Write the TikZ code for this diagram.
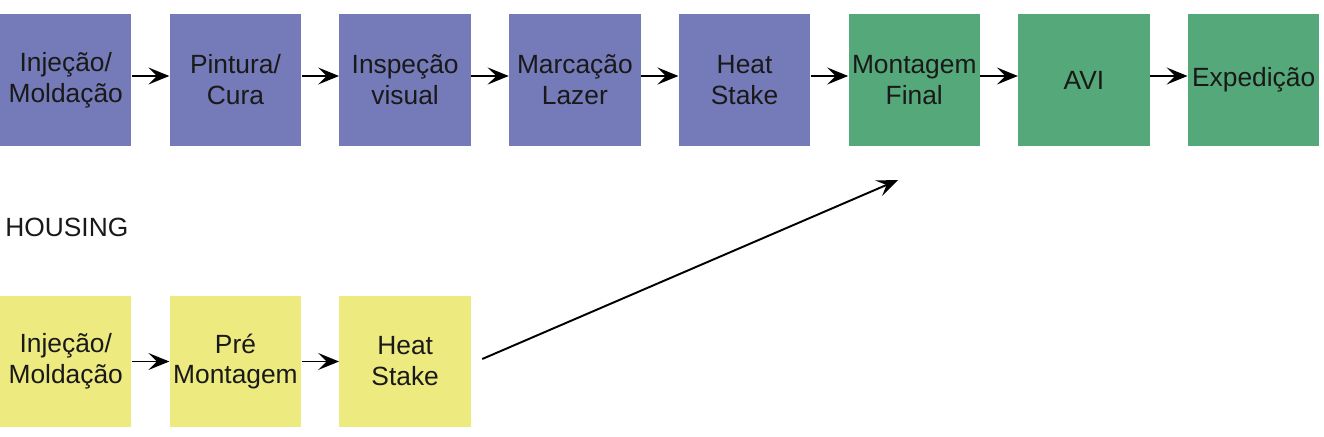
\documentclass[tikz,border=0pt]{standalone}
\usepackage{fontspec}
\setmainfont{Liberation Sans}
\usetikzlibrary{arrows.meta}
\definecolor{boxblue}{RGB}{117,122,185}
\definecolor{boxgreen}{RGB}{85,168,122}
\definecolor{boxyellow}{RGB}{237,234,128}
\tikzset{
	etapa/.style={minimum width=2.63cm, minimum height=2.64cm, inner sep=0pt, align=center, text=black!90, font=\fontsize{15}{17.6}\selectfont},
	seta/.style={-{Stealth[length=4.2mm, width=3.4mm, inset=1.7mm]}, line width=1.1pt}
}
\begin{document}
\begin{tikzpicture}[x=0.02cm, y=-0.02cm]
	\useasboundingbox (0,0) rectangle (1324,436);
	%linha de cima
		\node[etapa, fill=boxblue] (t1) at (65.75, 80){Injeção/\\Moldação};
		\node[etapa, fill=boxblue] (t2) at (235.45, 80){Pintura/\\Cura};
		\node[etapa, fill=boxblue] (t3) at (405.15, 80){Inspeção\\visual};
		\node[etapa, fill=boxblue] (t4) at (574.85, 80){Marcação\\Lazer};
		\node[etapa, fill=boxblue] (t5) at (744.55, 80){Heat\\Stake};
		\node[etapa, fill=boxgreen] (t6) at (914.25, 80){Montagem\\Final};
		\node[etapa, fill=boxgreen] (t7) at (1083.95, 80){AVI};
		\node[etapa, fill=boxgreen] (t8) at (1253.65, 80){Expedição};
		
		\foreach \a/\b in {t1/t2, t2/t3, t3/t4, t4/t5, t5/t6, t6/t7, t7/t8}{
			\draw[seta] ([yshift=0.8mm]\a.east)--([yshift=0.8mm]\b.west);
		}
		
	%housing
		\node[anchor=west, inner sep=0pt, text=black!90, font=\fontsize{15}{17.6}\selectfont] (housing) at (5, 227){HOUSING};
		
		\node[etapa, fill=boxyellow] (h1) at (65.75, 361.5){Injeção/\\Moldação};
		\node[etapa, fill=boxyellow] (h2) at (235.45, 361.5){Pré\\Montagem};
		\node[etapa, fill=boxyellow] (h3) at (405.15, 361.5){Heat\\Stake};
		
		\foreach \a/\b in {h1/h2, h2/h3}{
			\draw[seta] (\a.east)--(\b.west);
		}
		
		\coordinate (fim) at (898, 180);
		\draw[seta] ([xshift=2.2mm, yshift=0.5mm]h3.east)--(fim);
	\end{tikzpicture}
\end{document}
